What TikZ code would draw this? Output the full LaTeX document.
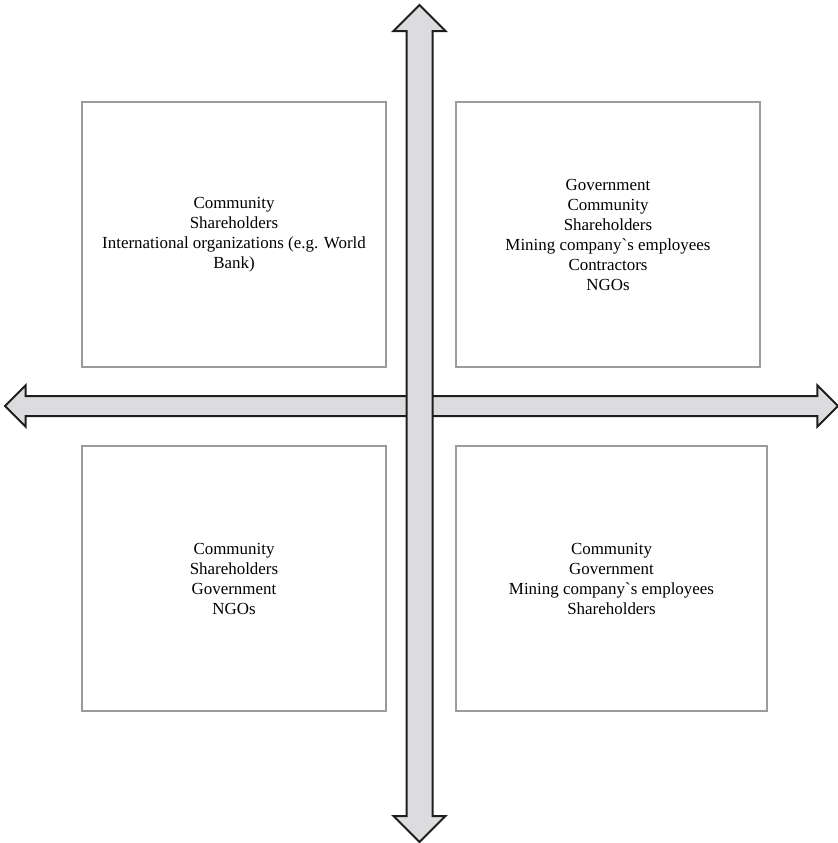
\documentclass[tikz,border=0pt]{standalone}
\usepackage{fontspec}
\setmainfont{Liberation Serif}
\usetikzlibrary{shapes.arrows, positioning}
\definecolor{boxGray}{RGB}{155,155,155}
\definecolor{axisFill}{RGB}{220,220,222}
\definecolor{axisEdge}{RGB}{30,30,30}
\tikzset{
    quad/.style={rectangle, draw=boxGray, line width=1.5pt, minimum width=228pt, minimum height=198.75pt, align=center, font=\fontsize{12.7}{15}\selectfont},
    axis/.style={double arrow, draw=axisEdge, fill=axisFill, line width=1.5pt, inner sep=0pt, double arrow tip angle=90}
}

\begin{document}
\begin{tikzpicture}[x=0.75pt, y=-0.75pt]
    \useasboundingbox (0,0) rectangle (838,843);

    % Axes
    \node (hAxis) [axis, minimum height=624.75pt, inner ysep=6.75pt, double arrow head extend=7.9pt] at (421.5,406) {};
    \node (vAxis) [axis, rotate=90, minimum height=627.75pt, inner ysep=9pt, double arrow head extend=9.75pt] at (419.5,423.5) {};

    % Quadrants
    \node (qTL) [quad] at (234,234.5) {Community\\ Shareholders\\ International organizations (e.g. World\\ Bank)};

    \node (qTR) [quad, right=51pt of qTL] {Government\\ Community\\ Shareholders\\ Mining company\textasciigrave s employees\\ Contractors\\ NGOs};

    \node (qBL) [quad, below=57.75pt of qTL] {Community\\ Shareholders\\ Government\\ NGOs};

    \node (qBR) [quad, right=51pt of qBL, minimum width=233.25pt] {Community\\ Government\\ Mining company\textasciigrave s employees\\ Shareholders};

\end{tikzpicture}
\end{document}
